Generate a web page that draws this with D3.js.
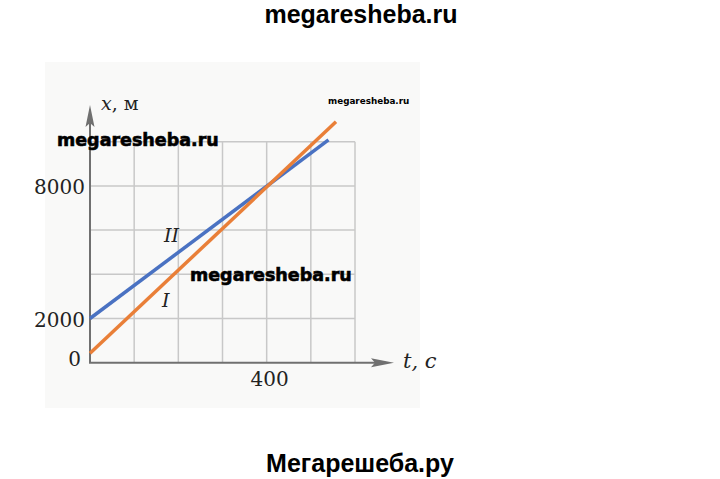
<!DOCTYPE html>
<html><head><meta charset="utf-8">
<script src="https://cdn.jsdelivr.net/npm/d3@7"></script>
<style>html,body{margin:0;padding:0;background:#fff;}svg{display:block;}</style>
</head><body>
<svg id="c" width="720" height="479"></svg>
<script>
// Data
const tGrid = [0, 100, 200, 300, 400, 500, 600];           // s
const xGrid = [0, 2000, 4000, 6000, 8000, 10000];          // m
const yTickLabels = [0, 2000, 8000];
const xTickLabels = [400];
const seriesI  = [[0, 430], [557, 10900]];   // orange, I
const seriesII = [[0, 2000], [540, 10080]];  // blue, II

const svg = d3.select("#c");
const x = d3.scaleLinear().domain([0, 600]).range([90, 355]);
const y = d3.scaleLinear().domain([0, 10000]).range([362.7, 141.7]);

// paper background
svg.append("rect").attr("x", 45).attr("y", 62).attr("width", 375).attr("height", 346)
  .attr("fill", "#f9f9f8");

// grid
const g = svg.append("g").attr("stroke", "#c8c8c8").attr("stroke-width", 1.5);
g.selectAll(".v").data(tGrid.slice(1)).join("line")
  .attr("x1", d => x(d)).attr("x2", d => x(d)).attr("y1", y(0)).attr("y2", y(10000));
g.selectAll(".h").data(xGrid.slice(1)).join("line")
  .attr("x1", x(0)).attr("x2", x(600)).attr("y1", d => y(d)).attr("y2", d => y(d));

// axes
const axc = "#707070";
svg.append("line").attr("x1", x(0)).attr("x2", x(0)).attr("y1", y(0)).attr("y2", 112)
  .attr("stroke", axc).attr("stroke-width", 2);
svg.append("line").attr("x1", x(0) - 1).attr("x2", 386).attr("y1", y(0)).attr("y2", y(0))
  .attr("stroke", axc).attr("stroke-width", 2);
svg.append("path").attr("d", `M${x(0)},105 L${x(0)+4.5},127 L${x(0)},123 L${x(0)-4.5},127 Z`).attr("fill", axc);
svg.append("path").attr("d", `M394,${y(0)} L371,${y(0)-4.5} L375,${y(0)} L371,${y(0)+4.5} Z`).attr("fill", axc);

// lines
const line = d3.line().x(d => x(d[0])).y(d => y(d[1]));
svg.append("path").datum(seriesII).attr("d", line).attr("fill", "none")
  .attr("stroke", "#4a72c2").attr("stroke-width", 3.5);
svg.append("path").datum(seriesI).attr("d", line).attr("fill", "none")
  .attr("stroke", "#e97f38").attr("stroke-width", 3.5);

// tick labels
const serif = "'DejaVu Serif', serif";
svg.selectAll(".yl").data(yTickLabels).join("text")
  .attr("x", d => d === 0 ? 81 : 85)
  .attr("y", d => d === 0 ? 366 : y(d) + 8)
  .attr("text-anchor", "end").attr("font-family", serif).attr("font-size", 20)
  .attr("fill", "#222").text(d => d);
svg.selectAll(".xl").data(xTickLabels).join("text")
  .attr("x", d => x(d) + 3).attr("y", 386)
  .attr("text-anchor", "middle").attr("font-family", serif).attr("font-size", 20)
  .attr("fill", "#222").text(d => d);

// axis labels
const yl = svg.append("text").attr("x", 101).attr("y", 110).attr("font-family", serif)
  .attr("font-size", 19).attr("fill", "#222");
yl.append("tspan").attr("font-style", "italic").text("x");
yl.append("tspan").text(", м");
const xl = svg.append("text").attr("x", 403).attr("y", 368).attr("font-family", serif)
  .attr("font-size", 21).attr("fill", "#222").attr("font-style", "italic");
xl.text("t, c");

// series labels
svg.append("text").attr("x", 164).attr("y", 241.5).attr("font-family", serif)
  .attr("font-style", "italic").attr("font-size", 19).attr("fill", "#222").text("II");
svg.append("text").attr("x", 162).attr("y", 306.5).attr("font-family", serif)
  .attr("font-style", "italic").attr("font-size", 19).attr("fill", "#222").text("I");

// watermarks
svg.append("text").attr("x", 361).attr("y", 23).attr("text-anchor", "middle")
  .attr("font-family", "'Liberation Sans', Arial, sans-serif").attr("font-weight", "bold")
  .attr("font-size", 25).attr("fill", "#000").text("megaresheba.ru");
svg.append("text").attr("x", 360).attr("y", 472).attr("text-anchor", "middle")
  .attr("font-family", "'Liberation Sans', Arial, sans-serif").attr("font-weight", "bold")
  .attr("font-size", 25).attr("fill", "#000").text("Мегарешеба.ру");
const wm = "'DejaVu Sans', Verdana, sans-serif";
svg.append("text").attr("x", 57).attr("y", 146).attr("font-family", wm).attr("font-weight", "bold")
  .attr("font-size", 17.5).attr("fill", "#000").attr("stroke", "#000").attr("stroke-width", 0.6)
  .text("megaresheba.ru");
svg.append("text").attr("x", 190).attr("y", 281).attr("font-family", wm).attr("font-weight", "bold")
  .attr("font-size", 17.5).attr("fill", "#000").attr("stroke", "#000").attr("stroke-width", 0.6)
  .text("megaresheba.ru");
svg.append("text").attr("x", 328).attr("y", 104).attr("font-family", wm).attr("font-weight", "bold")
  .attr("font-size", 8.8).attr("fill", "#000").text("megaresheba.ru");
</script>
</body></html>
